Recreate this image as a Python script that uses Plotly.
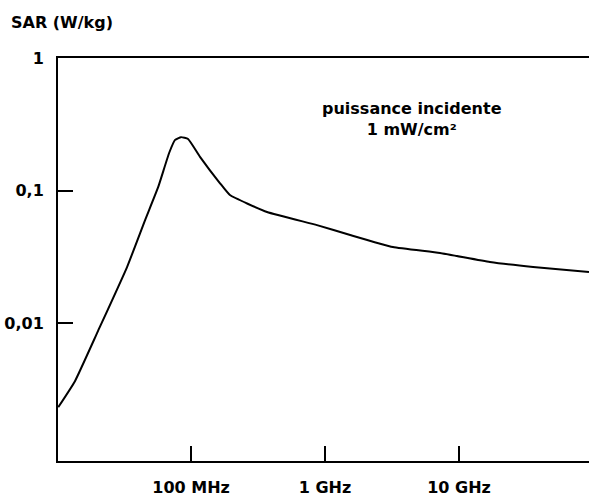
import plotly.graph_objects as go

freq_hz = [1.02e7, 1.36e7, 2.02e7, 3.33e7, 4.54e7, 5.68e7, 6.86e7, 7.60e7, 8.42e7, 9.50e7,
           1.17e8, 1.64e8, 1.95e8, 3.69e8, 8.71e8, 1.54e9, 3.21e9, 7.21e9, 1.70e10, 3.57e10, 9.33e10]
sar_w_kg = [0.00232, 0.00365, 0.00871, 0.0265, 0.0599, 0.106, 0.192, 0.241, 0.253, 0.245,
            0.179, 0.114, 0.0925, 0.0689, 0.0549, 0.0462, 0.0375, 0.0338, 0.0289, 0.0265, 0.0243]

x_tick_vals = [1e8, 1e9, 1e10]
x_tick_text = ["100 MHz", "1 GHz", "10 GHz"]
y_tick_vals = [1, 0.1, 0.01]
y_tick_text = ["1", "0,1", "0,01"]

FONT = "DejaVu Sans, sans-serif"
L, T, PW, PH = 58, 58, 531, 403

fig = go.Figure()
fig.add_trace(go.Scatter(x=freq_hz, y=sar_w_kg, mode="lines",
                         line=dict(color="black", width=2, shape="spline", smoothing=0.4),
                         showlegend=False, hoverinfo="skip"))

fig.update_layout(
    width=589, height=502,
    margin=dict(l=L, r=0, t=T, b=41),
    paper_bgcolor="white", plot_bgcolor="white",
    font=dict(family=FONT, size=16, color="black"),
    xaxis=dict(type="log", range=[7.007, 10.97], showgrid=False, zeroline=False,
               showline=True, linecolor="black", linewidth=2, mirror=True,
               ticks="inside", ticklen=15, tickwidth=2, tickcolor="black",
               tickvals=x_tick_vals, ticktext=x_tick_text, ticklabelstandoff=11,
               tickfont=dict(family=FONT, size=16, weight="bold")),
    yaxis=dict(type="log", range=[-3.04, 0], showgrid=False, zeroline=False,
               showline=True, linecolor="black", linewidth=2,
               ticks="inside", ticklen=15, tickwidth=2, tickcolor="black",
               tickvals=y_tick_vals, ticktext=y_tick_text, ticklabelstandoff=9,
               tickfont=dict(family=FONT, size=16, weight="bold")),
    annotations=[
        dict(text="SAR (W/kg)", xref="paper", yref="paper", x=(9 - L) / PW, y=1 + (T - 22) / PH,
             xanchor="left", yanchor="middle", showarrow=False,
             font=dict(family=FONT, size=16, weight="bold")),
        dict(text="puissance incidente<br>1 mW/cm²", xref="paper", yref="paper",
             x=(412 - L) / PW, y=1 - (119 - T) / PH, xanchor="center", yanchor="middle",
             showarrow=False, align="center",
             font=dict(family=FONT, size=16, weight="bold")),
    ],
)

fig.write_html("out.html",
               config={"displayModeBar": False, "staticPlot": True},
               post_script="document.body.style.margin='0';document.body.style.overflow='hidden';")
